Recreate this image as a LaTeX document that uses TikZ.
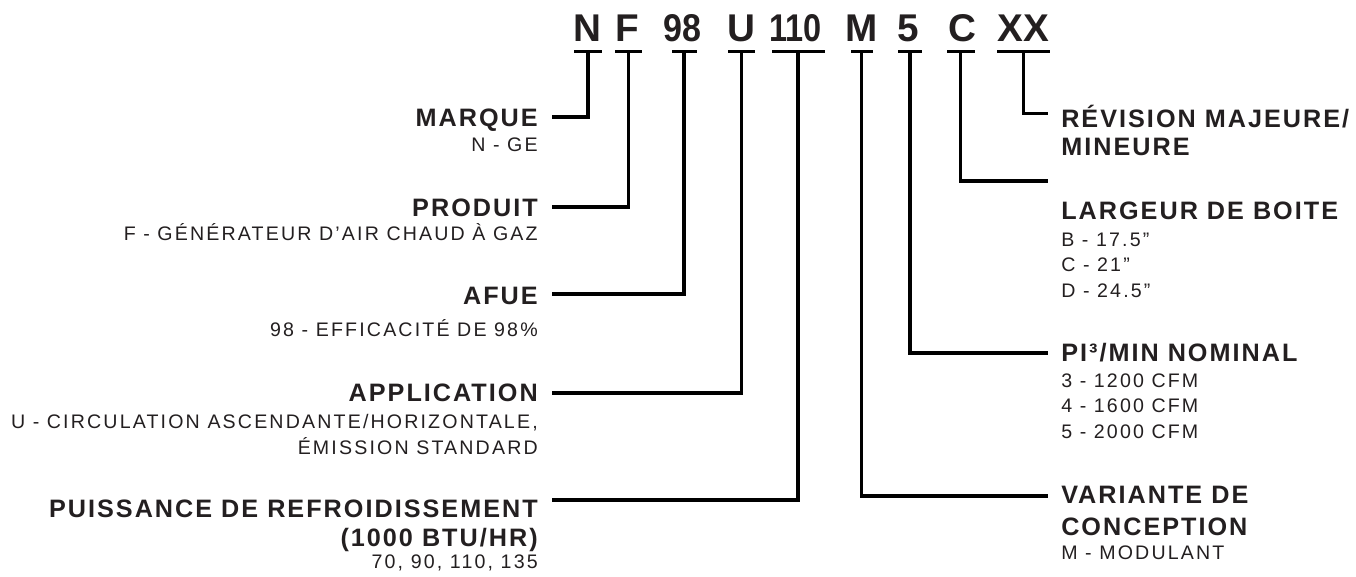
\documentclass[tikz,border=0pt]{standalone}
\usepackage{fontspec}
\setmainfont{Liberation Sans}
\newfontfamily\headfont{Liberation Sans}[LetterSpace=8]
\newfontfamily\subfont{Liberation Sans}[LetterSpace=11]
\usepackage{tikz}
\usetikzlibrary{positioning}
\definecolor{Ink}{HTML}{231F20}
\newdimen\px \px=0.75pt
\tikzset{
  code/.style={font=\bfseries\fontsize{29pt}{29pt}\selectfont,text=Ink,anchor=base,inner sep=0pt},
  bar/.style={fill=black,inner sep=0pt,minimum height=3.3\px},
  head/.style={font=\headfont\bfseries\fontsize{18.9pt}{21.4pt}\selectfont,text=Ink,inner sep=0pt},
  sub/.style={font=\subfont\fontsize{14.7pt}{19.1pt}\selectfont,text=Ink,inner sep=0pt},
  lefttext/.style={anchor=base east,align=right},
  righttext/.style={anchor=base west,align=left},
  link/.style={line width=3.2\px,draw=black}
}

\begin{document}
\begin{tikzpicture}[x=0.75pt,y=-0.75pt]
  \useasboundingbox (0,0) rectangle (1356,577);
  % model number
  \node[code] (cN) at (587.5,41.7) {N};
  \node[code] (cF) at (627,41.7) {F};
  \node[code] (c98) at (682,41.7) {\scalebox{0.88}[1]{98}};
  \node[code] (cU) at (741.5,41.7) {U};
  \node[code] (c110) at (795.5,41.7) {\scalebox{0.84}[1]{110}};
  \node[code] (cM) at (862,41.7) {M};
  \node[code] (c5) at (908.5,41.7) {5};
  \node[code] (cC) at (962,41.7) {C};
  \node[code] (cXX) at (1023.5,41.7) {XX};
  \node[bar,minimum width=28\px] (bN) at (588,51.7) {};
  \node[bar,minimum width=26.7\px] (bF) at (628.4,51.7) {};
  \node[bar,minimum width=25\px] (b98) at (684,51.7) {};
  \node[bar,minimum width=27\px] (bU) at (741.5,51.7) {};
  \node[bar,minimum width=53\px] (b110) at (798,51.7) {};
  \node[bar,minimum width=22\px] (bM) at (861.5,51.7) {};
  \node[bar,minimum width=23.7\px] (b5) at (910,51.7) {};
  \node[bar,minimum width=28\px] (bC) at (960.8,51.7) {};
  \node[bar,minimum width=53.3\px] (bXX) at (1023.4,51.7) {};
  % left column
  \node[head,lefttext] (marque) at (538,126.7) {MARQUE};
  \node[sub,lefttext] (marqueSub) at (538,151.7) {N - GE};
  \node[head,lefttext] (produit) at (538,216.7) {PRODUIT};
  \node[sub,lefttext] (produitSub) at (538,240.7) {F - GÉNÉRATEUR D’AIR CHAUD À GAZ};
  \node[head,lefttext] (afue) at (538,305) {AFUE};
  \node[sub,lefttext] (afueSub) at (538,336.7) {98 - EFFICACITÉ DE 98\%};
  \node[head,lefttext] (application) at (538,401) {APPLICATION};
  \node[sub,lefttext] (applicationSub) at (538,454.3) {U - CIRCULATION ASCENDANTE/HORIZONTALE,\\ÉMISSION STANDARD};
  \node[head,lefttext] (puissance) at (538,546) {PUISSANCE DE REFROIDISSEMENT\\(1000 BTU/HR)};
  \node[sub,lefttext] (puissanceSub) at (538,568) {70, 90, 110, 135};
  % right column
  \node[head,righttext] (revision) at (1061,155.7) {RÉVISION MAJEURE/\\MINEURE};
  \node[head,righttext] (largeur) at (1061,220) {LARGEUR DE BOITE};
  \node[sub,righttext] (largeurSub) at (1061,297.3) {B - 17.5”\\C - 21”\\D - 24.5”};
  \node[head,righttext] (debit) at (1061,361.7) {PI³/MIN NOMINAL};
  \node[sub,righttext] (debitSub) at (1061,438.3) {3 - 1200 CFM\\4 - 1600 CFM\\5 - 2000 CFM};
  \node[head,righttext] (variante) at (1061,535) {VARIANTE DE\\[3\px]CONCEPTION};
  \node[sub,righttext] (varianteSub) at (1061,559.3) {M - MODULANT};
  % connector ends
  \coordinate (eN) at (552,117);
  \coordinate (eF) at (552,207);
  \coordinate (e98) at (552,294);
  \coordinate (eU) at (552,393);
  \coordinate (e110) at (552,500);
  \coordinate (eM) at (1048,496);
  \coordinate (e5) at (1048,353);
  \coordinate (eC) at (1048,181);
  \coordinate (eXX) at (1048,113.5);
  \draw[link] (bN.center) |- (eN);
  \draw[link] (bF.center) |- (eF);
  \draw[link] (b98.center) |- (e98);
  \draw[link] (bU.center) |- (eU);
  \draw[link] (b110.center) |- (e110);
  \draw[link] (bM.center) |- (eM);
  \draw[link] (b5.center) |- (e5);
  \draw[link] (bC.center) |- (eC);
  \draw[link] (bXX.center) |- (eXX);
\end{tikzpicture}
\end{document}
